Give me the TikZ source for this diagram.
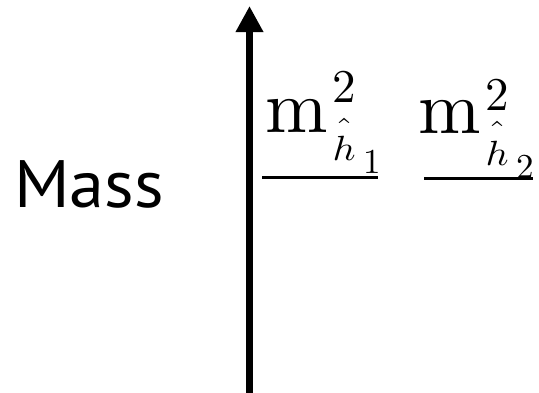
\documentclass[tikz,border=0pt]{standalone}
\usepackage{fontspec}
\usepackage{graphicx}
\newfontfamily\massfont{PT Sans}
\usetikzlibrary{arrows.meta}
% label: m^2_{\hat h_<sub>} built piece by piece
% #1 sub digit, #2 sup raise, #3 h lower, #4 sub lower, #5 extra hat raise (unscaled)
\newcommand\hlab[5]{%
  \scalebox{7.5}{m}\kern5pt
  \rlap{\raisebox{#2}{\scalebox{4.7}{2}}}%
  \raisebox{-#3}{\scalebox{4}[3.5]{$\rlap{\raisebox{#5}{$\hat{\phantom{h}}$}}h$}}%
  \kern8pt\raisebox{-#4}{\scalebox{3.5}{#1}}}
\begin{document}
\begin{tikzpicture}[x=1pt,y=-1pt,
  axisline/.style={line width=7.5pt,-{Triangle[width=26pt,length=26pt]}},
  level/.style={line width=2.5pt},
  lbl/.style={inner sep=0pt,anchor=base west}]
\useasboundingbox (0,0) rectangle (539,392);
\coordinate (axisbot) at (249.5,400);
\coordinate (axistop) at (249.5,6);
\draw[axisline] (axisbot) -- (axistop);
\node[lbl,font=\massfont\fontsize{67}{67}\selectfont,xscale=1.05] (mass) at (14,207) {Mass};
\coordinate (lv1a) at (262,177.5);
\coordinate (lv1b) at (378,177.5);
\coordinate (lv2a) at (424,178.5);
\coordinate (lv2b) at (533,178.5);
\draw[level] (lv1a) -- (lv1b);
\draw[level] (lv2a) -- (lv2b);
\node[lbl] (lab1) at (265,132) {\hlab{1}{30pt}{28pt}{41pt}{2.4pt}};
\node[lbl] (lab2) at (418,133) {\hlab{2}{23pt}{32pt}{45pt}{3pt}};
\end{tikzpicture}
\end{document}
